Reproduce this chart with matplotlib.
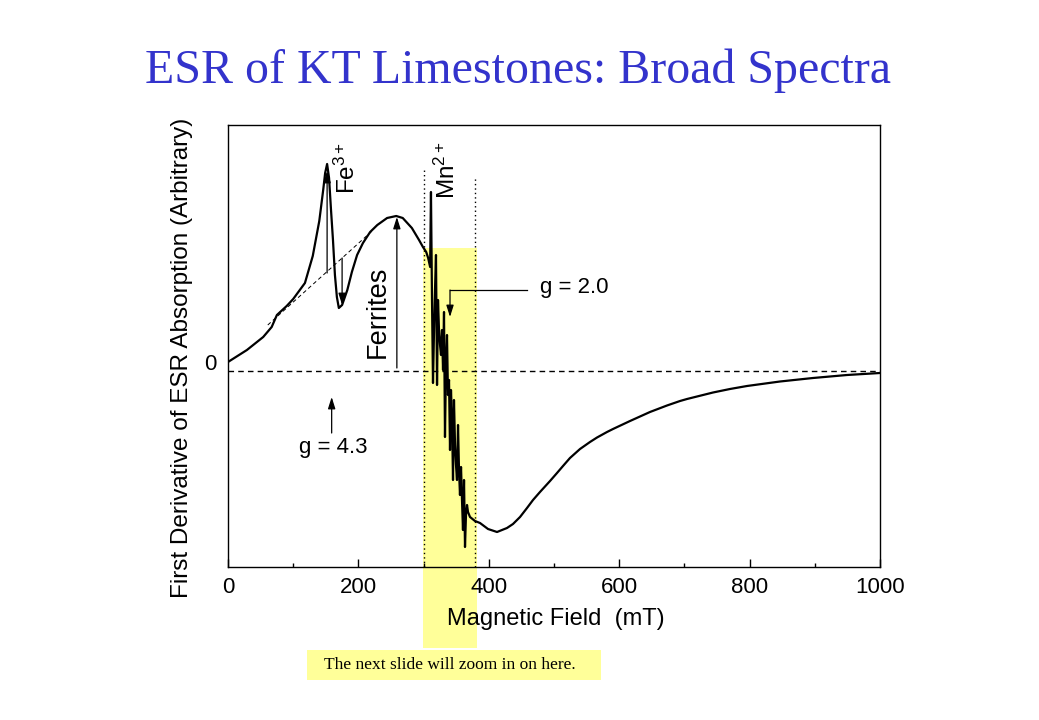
import matplotlib
matplotlib.use("Agg")
import matplotlib.pyplot as plt
from matplotlib.patches import Rectangle
from matplotlib.transforms import ScaledTranslation

plt.rcParams['font.family'] = ['Liberation Sans', 'DejaVu Sans']
plt.rcParams['mathtext.fontset'] = 'custom'
plt.rcParams['mathtext.rm'] = 'Liberation Sans'
plt.rcParams['mathtext.it'] = 'Liberation Sans'
plt.rcParams['mathtext.default'] = 'regular'

# ---- data (magnetic field in mT, first-derivative signal in arbitrary units) ----
field_mT = [0, 29, 54, 67, 75, 90, 100, 118, 130, 140, 146, 149, 152, 155, 158, 161,
            164, 167, 170, 175, 183, 190, 198, 207, 218, 229, 244, 258, 268, 282, 293,
            299, 304, 307, 310,
            311.3, 312.9, 314.4, 316, 317.5, 319, 320.6, 322.1, 323.6, 325.2, 326.7,
            328.2, 329.8, 331.3, 332.8, 334.4, 335.9, 337.4, 339, 340.5, 342, 343.6,
            345.1, 346.6, 348.2, 349.7, 351.2, 352.8, 354.3, 355.8, 357.4, 358.9,
            360.4, 362, 363.5, 365, 366.6, 368.1, 371.2, 378.8, 386.5, 398.8,
            412.6, 427.9, 437.1, 447.9, 458.6, 467.8, 478.5, 493.9, 504.6, 513.8,
            524.5, 539.9, 555.2, 566.0, 581.3, 590.5, 616.6, 631.9, 647.2, 673.3,
            693.3, 704.0, 743.9, 769.9, 796.0, 846.6, 897.2, 949.4, 1000]
signal = [0.09, 0.21, 0.34, 0.44, 0.56, 0.65, 0.72, 0.88, 1.15, 1.50, 1.81, 1.98, 2.07,
          1.93, 1.61, 1.31, 0.96, 0.74, 0.63, 0.66, 0.81, 0.99, 1.16, 1.28, 1.39, 1.46,
          1.53, 1.55, 1.53, 1.43, 1.31, 1.24, 1.19, 1.13, 1.04,
          1.79, 0.71, -0.12, 0.41, 0.81, 1.16, -0.14, 0.71, 0.41, 0.26, 0.16,
          0.41, 0.01, 0.59, -0.66, 0.11, 0.36, -0.24, -0.09, -0.79, -0.19, -0.49,
          -1.09, -0.29, -0.74, -0.94, -1.09, -0.54, -0.99, -1.24, -0.96, -1.29,
          -1.59, -1.09, -1.76, -1.44, -1.34, -1.41, -1.46, -1.50, -1.52, -1.58,
          -1.61, -1.57, -1.53, -1.46, -1.37, -1.29, -1.21, -1.10, -1.02, -0.95,
          -0.87, -0.78, -0.71, -0.665, -0.61, -0.58, -0.50, -0.455, -0.41, -0.345,
          -0.30, -0.28, -0.215, -0.18, -0.15, -0.105, -0.07, -0.04, -0.02]

x_ticks = [0, 200, 400, 600, 800, 1000]
x_minor = [100, 300, 500, 700, 900]
fe_baseline_x = [61, 221]
fe_baseline_y = [0.46, 1.40]
mn_window = [301, 379]

fig = plt.figure(figsize=(10.39, 7.2), dpi=100)
fig.patch.set_facecolor('white')

# yellow highlight behind the axes
fig.patches.append(Rectangle((423 / 1039, 1 - 648 / 720), 54 / 1039, 400 / 720,
                             transform=fig.transFigure, facecolor='#FFFF99',
                             edgecolor='none', zorder=-2))
fig.patches.append(Rectangle((307 / 1039, 1 - 680 / 720), 294 / 1039, 30 / 720,
                             transform=fig.transFigure, facecolor='#FFFF99',
                             edgecolor='none', zorder=-2))

ax = fig.add_axes([228 / 1039, 1 - 567 / 720, 652 / 1039, 442 / 720])
ax.set_facecolor('none')
ax.set_xlim(0, 1000)
ax.set_ylim(-1.96, 2.46)

ax.plot(field_mT, signal, color='black', lw=1.6, zorder=3, solid_joinstyle='round')
ax.axhline(0, color='black', lw=1.0, ls=(0, (4, 3)), zorder=2)
ax.plot(fe_baseline_x, fe_baseline_y, color='black', lw=0.7, ls=(0, (4, 3)), zorder=2)
for xv, ytop in zip(mn_window, [2.01, 1.93]):
    ax.plot([xv, xv], [-1.96, ytop], color='black', lw=1.0, ls=(0, (1, 2.2)), zorder=2)

arrow_kw = dict(arrowstyle='-|>,head_length=0.7,head_width=0.22', color='black', lw=0.9,
                shrinkA=0, shrinkB=0)
ax.annotate('', xy=(152, 2.0), xytext=(152, 0.98), arrowprops=arrow_kw)
ax.annotate('', xy=(175, 0.66), xytext=(175, 1.13), arrowprops=arrow_kw)
ax.annotate('', xy=(259, 1.54), xytext=(259, 0.03), arrowprops=arrow_kw)
ax.annotate('', xy=(159, -0.26), xytext=(159, -0.62), arrowprops=arrow_kw)
ax.plot([459, 340.5], [0.81, 0.81], color='black', lw=0.9)
ax.annotate('', xy=(340.5, 0.54), xytext=(340.5, 0.81), arrowprops=arrow_kw)

ax.text(182.5, 2.03, 'Fe$^{3+}$', rotation=90, ha='center', va='center', fontsize=17.5)
ax.text(337, 2.01, 'Mn$^{2+}$', rotation=90, ha='center', va='center', fontsize=17.5)
ax.text(230, 0.59, 'Ferrites', rotation=90, ha='center', va='center', fontsize=19.5)
ax.text(478, 0.83, 'g = 2.0', ha='left', va='center', fontsize=16)
ax.text(161, -0.76, 'g = 4.3', ha='center', va='center', fontsize=16)

ax.set_xticks(x_ticks)
ax.set_xticks(x_minor, minor=True)
ax.tick_params(axis='x', which='major', direction='in', length=6, width=1.0,
               labelsize=16, pad=7, top=False)
ax.tick_params(axis='x', which='minor', direction='in', length=3, width=1.0, top=False)
ax.set_yticks([0])
ax.set_yticklabels(['0'])
ax.tick_params(axis='y', length=0, labelsize=16, pad=8)
for lab in ax.get_yticklabels():
    lab.set_transform(lab.get_transform() + ScaledTranslation(0, 9 / 100, fig.dpi_scale_trans))
for sp in ax.spines.values():
    sp.set_linewidth(1.0)

ax.set_xlabel('Magnetic Field  (mT)', fontsize=17)
ax.xaxis.set_label_coords(0.503, -0.093)
ax.set_ylabel('First Derivative of ESR Absorption (Arbitrary)', fontsize=17.5)
ax.yaxis.set_label_coords(-0.054, 0.473)

fig.text(0.4986, 1 - 71 / 720, 'ESR of KT Limestones: Broad Spectra', ha='center',
         va='center', fontsize=34.5, color='#3333CC', family='Liberation Serif')
fig.text(450 / 1039, 1 - 665 / 720, 'The next slide will zoom in on here.', ha='center',
         va='center', fontsize=12.5, family='Liberation Serif')

fig.savefig('out.png', dpi=100)
